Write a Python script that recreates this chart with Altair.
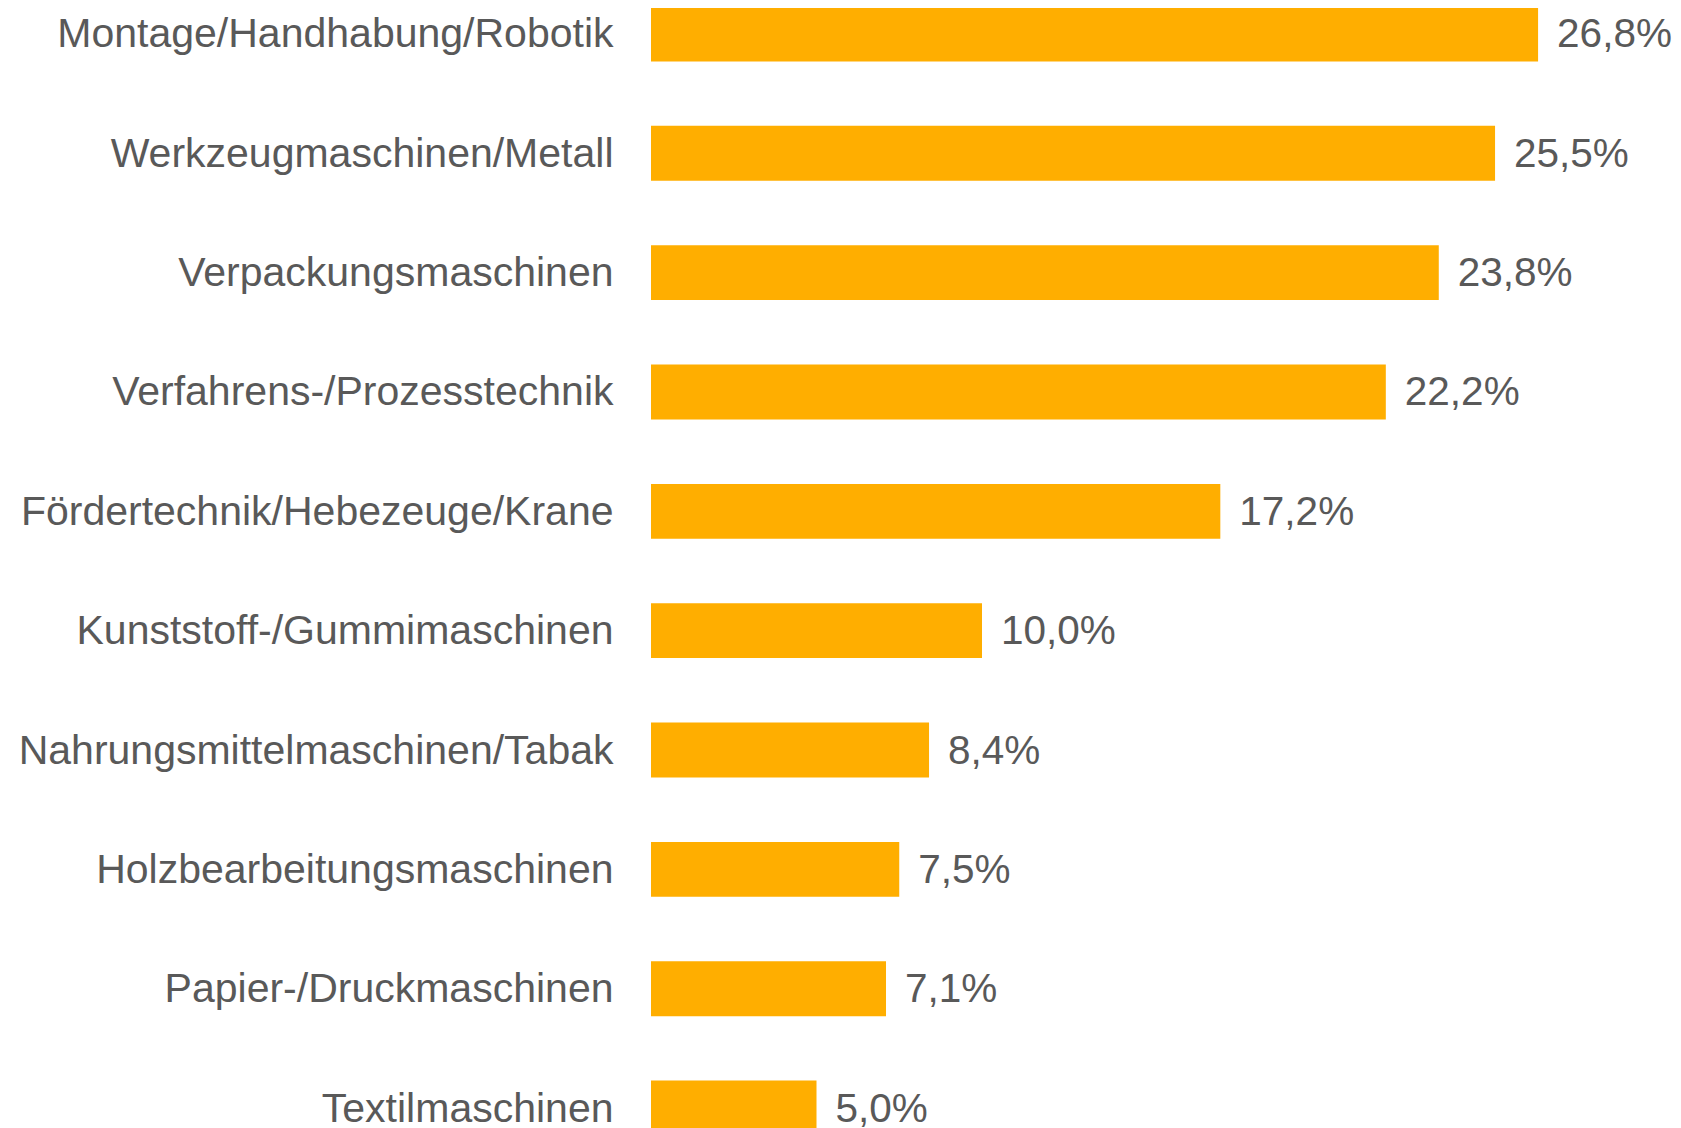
import altair as alt
import pandas as pd

categories = [
    "Montage/Handhabung/Robotik",
    "Werkzeugmaschinen/Metall",
    "Verpackungsmaschinen",
    "Verfahrens-/Prozesstechnik",
    "Fördertechnik/Hebezeuge/Krane",
    "Kunststoff-/Gummimaschinen",
    "Nahrungsmittelmaschinen/Tabak",
    "Holzbearbeitungsmaschinen",
    "Papier-/Druckmaschinen",
    "Textilmaschinen",
]
values = [26.8, 25.5, 23.8, 22.2, 17.2, 10.0, 8.4, 7.5, 7.1, 5.0]
value_labels = [f"{v:.1f}".replace(".", ",") + "%" for v in values]

df = pd.DataFrame({"cat": categories, "val": values, "lab": value_labels})

TEXT = "#595959"
FONT = "Liberation Sans"

base = alt.Chart(df).encode(
    y=alt.Y(
        "cat:N",
        sort=categories,
        scale=alt.Scale(paddingInner=0.54, paddingOuter=0),
        axis=alt.Axis(
            title=None,
            ticks=False,
            domain=False,
            labelFontSize=41,
            labelColor=TEXT,
            labelFont=FONT,
            labelPadding=38,
            labelLimit=800,
        ),
    ),
    x=alt.X("val:Q", scale=alt.Scale(domain=[0, 30], nice=False), axis=None),
)

bars = base.mark_bar(color="#FFAE00", yOffset=-1.5)
text = base.mark_text(
    align="left", baseline="middle", dx=19, fontSize=40.5, font=FONT, color=TEXT
).encode(text="lab:N")

chart = (
    (bars + text)
    .properties(
        width=993,
        height=1129,
        autosize=alt.AutoSizeParams(type="none"),
        padding={"left": 643, "top": 0, "right": 28, "bottom": 0},
    )
    .configure_view(strokeWidth=0)
)

chart.save("out.html", embed_options={"renderer": "svg", "actions": False})
